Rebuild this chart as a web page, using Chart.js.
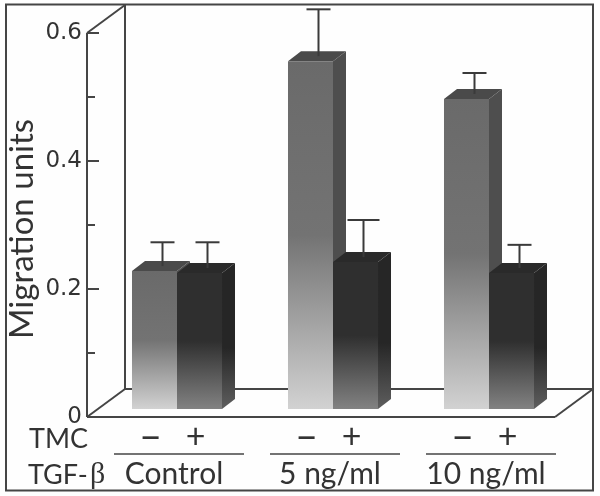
<!DOCTYPE html>
<html>
<head>
<meta charset="utf-8">
<style>
  html, body { margin: 0; padding: 0; background: #fefefe; }
  #wrap { width: 600px; height: 496px; }
</style>
</head>
<body>
<div id="wrap"><canvas id="migrationChart" width="600" height="496"></canvas></div>
<script src="https://cdn.jsdelivr.net/npm/chart.js@4/dist/chart.umd.min.js"></script>
<script>
const doses = ["Control", "5 ng/ml", "10 ng/ml"];
const withoutTmc = [0.228, 0.556, 0.497];
const withTmc = [0.225, 0.242, 0.225];
const withoutTmcErrTop = [0.273, 0.637, 0.5375];
const withTmcErrTop = [0.273, 0.308, 0.269];
const tmcSigns = ["–", "+"];
const yMinorTicks = [0.1, 0.3, 0.5];

const INK = "#454545";
const BAR_FLOOR = 0.0125; // bars stand on the floor, a bit above the axis zero
const DX = 13, DY = -10;

const line = (ctx, x1, y1, x2, y2) => {
  ctx.beginPath();
  ctx.moveTo(x1, y1);
  ctx.lineTo(x2, y2);
  ctx.stroke();
};

const poly = (ctx, pts, fill) => {
  ctx.fillStyle = fill;
  ctx.beginPath();
  pts.forEach((p, i) => (i ? ctx.lineTo(p[0], p[1]) : ctx.moveTo(p[0], p[1])));
  ctx.closePath();
  ctx.fill();
};

// each bar has its own ramp, from its top down to the floor
const barGrad = (chart, value, stops) => {
  const y = chart.scales.y;
  const top = y ? y.getPixelForValue(value) : NaN;
  const bottom = y ? y.getPixelForValue(BAR_FLOOR) : NaN;
  if (!Number.isFinite(top) || !Number.isFinite(bottom)) return stops[0][1]; // scales not laid out yet
  const g = chart.ctx.createLinearGradient(0, top, 0, bottom);
  stops.forEach((s) => g.addColorStop(s[0], s[1]));
  return g;
};

const LIGHT_FRONT = [[0, "#6a6a6a"], [0.5, "#737373"], [1, "#d2d2d2"]];
const DARK_FRONT = [[0, "#2f2f2f"], [0.5, "#2f2f2f"], [1, "#828282"]];
const DARK_SIDE = [[0, "#262626"], [0.55, "#262626"], [1, "#5e5e5e"]];

// left bar has to go under the right one, so the blocks are drawn here in order
const drawBlock = (chart, index) => {
  const { ctx, scales: { y } } = chart;
  const meta = chart.getDatasetMeta(index);
  const light = index === 0;
  const tops = light ? withoutTmcErrTop : withTmcErrTop;
  const values = light ? withoutTmc : withTmc;
  meta.data.forEach((bar, i) => {
    const l = bar.x - bar.width / 2, r = bar.x + bar.width / 2, t = bar.y, b = bar.base;
    const sideFill = light ? "#4e4e4e" : barGrad(chart, values[i], DARK_SIDE);
    poly(ctx, [[r, t], [r + DX, t + DY], [r + DX, b + DY], [r, b]], sideFill);
    poly(ctx, [[l, t], [l + DX, t + DY], [r + DX, t + DY], [r, t]], light ? "#4a4a4a" : "#2a2a2a");
  });
  meta.controller.draw();
  ctx.save();
  ctx.strokeStyle = "#3a3a3a";
  ctx.lineWidth = 2;
  meta.data.forEach((bar, i) => {
    const x = bar.x + 8;
    const capY = y.getPixelForValue(tops[i]);
    const half = !light && i === 1 ? 16 : 12;
    line(ctx, x, bar.y - 5, x, capY);
    line(ctx, x - half, capY, x + half, capY);
  });
  ctx.restore();
};

// frame, back wall, floor, y axis line and its inside ticks
const boxPlugin = {
  id: "box",
  beforeDatasetsDraw(chart) {
    const { ctx, scales: { y } } = chart;
    const axisX = 87, wallX = 125, right = 593;
    const y0 = y.getPixelForValue(0), yTop = y.getPixelForValue(0.6);
    ctx.save();
    ctx.strokeStyle = INK;
    ctx.lineWidth = 2;
    ctx.strokeRect(6, 4.5, right - 6, 486);
    line(ctx, wallX, 5, wallX, 389);
    line(ctx, wallX, 389, right, 389);
    line(ctx, axisX, yTop, wallX, 5);
    line(ctx, axisX, yTop, axisX, y0);
    line(ctx, axisX, y0, 555, y0);
    line(ctx, axisX, y0, wallX, 389);
    line(ctx, 555, y0, right, 389);
    y.ticks.forEach((t) => {
      const py = y.getPixelForValue(t.value);
      const minor = yMinorTicks.some((m) => Math.abs(m - t.value) < 1e-6);
      if (t.value > 0) line(ctx, axisX, py, axisX + (minor ? 8 : 12), py);
    });
    ctx.restore();
  },
  beforeDatasetDraw: () => false,
  afterDatasetsDraw(chart) {
    drawBlock(chart, 0);
    drawBlock(chart, 1);
  },
  afterDraw(chart) {
    const { ctx } = chart;
    ctx.save();
    ctx.fillStyle = "#333";
    ctx.textBaseline = "middle";
    ctx.font = "27px Lato";
    ctx.textAlign = "left";
    ctx.fillText("TMC", 29, 439);
    ctx.fillText("TGF-", 28, 475);
    ctx.font = "30px 'Liberation Serif'";
    ctx.fillText("β", 90, 475);
    ctx.textAlign = "center";
    tmcSigns.forEach((sign, s) => {
      ctx.font = s === 0 ? "40px Lato" : "34px Lato";
      chart.getDatasetMeta(s).data.forEach((bar) => ctx.fillText(sign, bar.x - 4, 437));
    });
    ctx.strokeStyle = INK;
    ctx.lineWidth = 1.5;
    doses.forEach((d, i) => {
      const mid = chart.scales.x.getPixelForValue(i) + 5 - 3;
      line(ctx, mid - 65, 454, mid + 65, 454);
    });
    // y title sits a little below the middle of the axis
    ctx.translate(22, 229);
    ctx.rotate(-Math.PI / 2);
    ctx.font = "33px Lato";
    ctx.fillText("Migration units", 0, 0);
    ctx.restore();
  },
};

new Chart(document.getElementById("migrationChart").getContext("2d"), {
  type: "bar",
  data: {
    labels: doses,
    datasets: [
      {
        label: "TMC -",
        data: withoutTmc.map((v) => [BAR_FLOOR, v]),
        backgroundColor: (c) => barGrad(c.chart, withoutTmc[c.dataIndex], LIGHT_FRONT),
      },
      {
        label: "TMC +",
        data: withTmc.map((v) => [BAR_FLOOR, v]),
        backgroundColor: (c) => barGrad(c.chart, withTmc[c.dataIndex], DARK_FRONT),
      },
    ],
  },
  options: {
    responsive: false,
    animation: false,
    layout: { padding: { top: 33, right: 33, left: 0, bottom: 0 } },
    categoryPercentage: 0.577,
    barPercentage: 1,
    plugins: { legend: { display: false }, tooltip: { enabled: false } },
    scales: {
      x: {
        grid: { display: false },
        border: { display: false },
        afterFit: (s) => { s.height = 79; },
        ticks: {
          color: "#333",
          font: { family: "Lato", size: 30 },
          padding: 31,
          labelOffset: -3,
          maxRotation: 0,
          autoSkip: false,
        },
      },
      y: {
        min: 0,
        max: 0.6,
        grid: { display: false },
        border: { display: false },
        afterFit: (s) => { s.width = 99; },
        ticks: {
          stepSize: 0.1,
          autoSkip: false,
          color: "#333",
          padding: 9,
          font: { family: "DejaVu Sans", size: 23 },
          callback: (v) => {
            const n = Math.round(v * 10);
            if (n === 0) return "0";
            return n % 2 === 0 ? (n / 10).toFixed(1) : "";
          },
        },
      },
    },
  },
  plugins: [boxPlugin],
});
</script>
</body>
</html>
